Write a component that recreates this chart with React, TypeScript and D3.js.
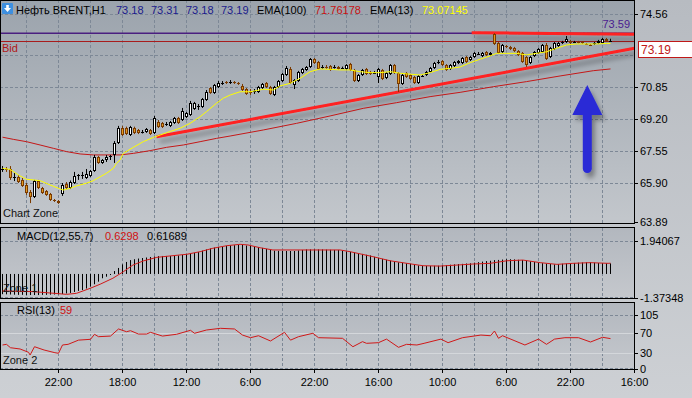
import React, { useEffect } from 'react';
import * as d3 from 'd3';

// ---------- DATA ----------
// candles: [open, high, low, close], one per H1 bar
const candles: [number, number, number, number][] = [
  [66.63, 66.78, 66.48, 66.65], [66.65, 66.73, 66.48, 66.62], [66.63, 66.78, 66.07, 66.17], [66.20, 66.42, 66.01, 66.22],
  [66.22, 66.32, 65.91, 65.96], [66.07, 66.17, 65.71, 65.76], [65.81, 65.91, 65.30, 65.40], [65.45, 65.55, 64.88, 65.19],
  [65.19, 66.07, 65.14, 66.01], [66.01, 66.07, 65.60, 65.66], [65.66, 65.71, 65.35, 65.40], [65.50, 65.55, 65.25, 65.30],
  [65.35, 65.40, 64.99, 65.04], [65.04, 65.09, 64.94, 64.99], [64.99, 65.04, 64.84, 64.89], [65.35, 65.91, 65.25, 65.81],
  [65.86, 65.96, 65.60, 65.66], [65.66, 66.04, 65.60, 65.96], [65.91, 66.48, 65.86, 66.27], [66.27, 66.37, 66.07, 66.30],
  [66.30, 66.48, 66.12, 66.33], [66.17, 66.63, 66.12, 66.37], [66.27, 66.58, 66.22, 66.53], [66.53, 67.35, 66.48, 67.25],
  [67.25, 67.30, 66.89, 66.94], [66.94, 67.14, 66.89, 67.09], [67.09, 67.35, 66.99, 67.25], [67.25, 67.35, 67.09, 67.27],
  [67.35, 68.06, 66.94, 67.96], [67.96, 68.84, 67.91, 68.73], [68.73, 68.84, 68.32, 68.37], [68.73, 68.80, 68.37, 68.42],
  [68.37, 68.84, 68.32, 68.78], [68.73, 68.80, 68.42, 68.48], [68.63, 68.68, 68.42, 68.48], [68.53, 68.63, 68.45, 68.55],
  [68.53, 68.73, 68.48, 68.68], [68.63, 68.68, 68.37, 68.42], [68.48, 69.35, 68.42, 69.24], [69.04, 69.14, 68.73, 68.78],
  [68.99, 69.04, 68.73, 68.78], [68.94, 69.04, 68.84, 68.96], [68.84, 69.09, 68.78, 69.04], [68.99, 69.30, 68.94, 69.24],
  [69.24, 69.30, 68.94, 68.99], [69.14, 69.76, 69.09, 69.60], [69.30, 69.55, 69.24, 69.50], [69.40, 70.12, 69.35, 70.01],
  [69.71, 70.07, 69.66, 70.01], [69.81, 69.96, 69.66, 69.84], [69.81, 70.27, 69.76, 70.22], [70.17, 70.68, 70.12, 70.58],
  [70.78, 70.83, 70.48, 70.53], [70.53, 70.99, 70.48, 70.94], [70.83, 71.14, 70.78, 71.04], [71.04, 71.14, 70.94, 71.06],
  [71.09, 71.14, 70.99, 71.04], [71.06, 71.19, 70.99, 71.09], [71.09, 71.14, 70.99, 71.07], [71.04, 71.09, 70.94, 71.02],
  [70.89, 70.99, 70.63, 70.68], [70.73, 70.78, 70.43, 70.48], [70.58, 70.73, 70.43, 70.56], [70.60, 70.73, 70.48, 70.63],
  [70.58, 70.89, 70.53, 70.83], [70.78, 71.04, 70.73, 70.99], [71.04, 71.09, 70.78, 70.83], [70.83, 70.89, 70.43, 70.48],
  [70.43, 70.89, 70.37, 70.83], [70.83, 71.19, 70.78, 71.14], [71.14, 71.55, 71.09, 71.50], [71.45, 71.91, 71.40, 71.81],
  [71.76, 71.86, 70.99, 71.04], [70.94, 71.24, 70.73, 71.19], [71.14, 71.66, 71.09, 71.60], [71.55, 71.81, 71.50, 71.76],
  [71.71, 71.91, 71.66, 71.86], [71.86, 72.32, 71.81, 72.27], [72.27, 72.32, 72.01, 72.07], [72.12, 72.17, 71.71, 71.76],
  [71.86, 71.96, 71.76, 71.88], [71.88, 71.96, 71.76, 71.86], [71.91, 71.96, 71.66, 71.71], [71.86, 71.96, 71.78, 71.88],
  [71.86, 71.91, 71.71, 71.76], [71.81, 71.88, 71.76, 71.83], [71.76, 72.01, 71.71, 71.96], [72.01, 72.07, 71.66, 71.71],
  [71.71, 71.76, 71.09, 71.14], [71.14, 71.50, 71.09, 71.45], [71.45, 71.76, 71.40, 71.71], [71.76, 71.81, 71.45, 71.50],
  [71.60, 71.66, 71.45, 71.50], [71.55, 71.66, 71.50, 71.57], [71.35, 71.81, 71.04, 71.76], [71.71, 71.76, 71.19, 71.24],
  [71.30, 71.60, 71.24, 71.55], [71.50, 72.01, 71.45, 71.96], [71.96, 72.01, 71.50, 71.55], [71.55, 71.60, 70.58, 70.99],
  [70.99, 71.50, 70.94, 71.45], [71.55, 71.60, 71.30, 71.35], [71.45, 71.50, 71.19, 71.24], [71.35, 71.40, 70.99, 71.04],
  [71.04, 71.45, 70.99, 71.40], [71.40, 71.50, 71.35, 71.42], [71.45, 71.66, 71.40, 71.60], [71.60, 71.86, 71.55, 71.81],
  [71.81, 72.12, 71.76, 72.07], [72.12, 72.22, 72.01, 72.14], [72.17, 72.22, 71.91, 71.96], [71.96, 72.01, 71.66, 71.71],
  [71.76, 72.01, 71.71, 71.96], [71.91, 72.17, 71.86, 72.12], [72.07, 72.22, 72.01, 72.17], [72.07, 72.37, 72.01, 72.32],
  [72.37, 72.42, 72.07, 72.12], [72.22, 72.42, 72.17, 72.37], [72.37, 72.63, 72.32, 72.58], [72.53, 72.63, 72.48, 72.55],
  [72.42, 72.63, 72.37, 72.58], [72.63, 72.68, 72.42, 72.48], [72.48, 72.63, 72.42, 72.58], [73.55, 73.59, 72.99, 73.04],
  [73.09, 73.14, 72.53, 72.58], [72.63, 73.04, 72.58, 72.99], [72.94, 72.99, 72.83, 72.89], [72.89, 72.94, 72.73, 72.78],
  [72.83, 72.89, 72.63, 72.68], [72.68, 72.73, 72.42, 72.48], [72.58, 72.63, 72.07, 72.12], [72.37, 72.42, 71.86, 71.96],
  [72.07, 72.42, 72.01, 72.37], [72.42, 72.68, 72.37, 72.63], [72.58, 72.83, 72.53, 72.78], [72.63, 73.04, 72.58, 72.99],
  [72.99, 73.09, 72.22, 72.27], [72.37, 72.89, 72.32, 72.83], [72.78, 73.14, 72.73, 73.09], [72.94, 73.14, 72.89, 73.09],
  [73.12, 73.20, 73.04, 73.14], [73.14, 73.45, 73.09, 73.30], [73.19, 73.25, 73.04, 73.09], [73.12, 73.20, 73.09, 73.14],
  [73.14, 73.20, 73.07, 73.12], [73.14, 73.19, 73.04, 73.09], [73.04, 73.09, 72.99, 73.02], [72.99, 73.04, 72.94, 72.97],
  [73.04, 73.14, 72.99, 73.09], [73.09, 73.25, 73.04, 73.19], [73.09, 73.35, 73.04, 73.30], [73.31, 73.35, 73.14, 73.19],
  [73.18, 73.31, 73.18, 73.19],
];

// EMA(13) vertices [bar, price]
const ema13: [number, number][] = [
  [0, 66.66], [1.9, 66.61], [4, 66.32], [6, 66.10], [7.7, 66.07], [9.4, 66.03], [11.9, 65.81], [14, 65.64], [15.2, 65.55],
  [16.9, 65.64], [18.5, 65.76], [21, 65.90], [22.7, 66.03], [24.4, 66.23], [26, 66.41], [27.7, 66.66], [28.5, 66.92],
  [29.4, 67.09], [30.2, 67.43], [32.7, 67.74], [35.2, 68.03], [37.7, 68.25], [39.4, 68.37], [41, 68.49], [44.4, 68.72],
  [46.9, 68.97], [49.4, 69.31], [51, 69.57], [53.5, 70.00], [55.2, 70.26], [56.9, 70.42], [59.4, 70.59], [61.9, 70.59],
  [65.2, 70.72], [67.7, 70.68], [69.4, 70.89], [71.9, 71.02], [74.4, 71.28], [76.9, 71.62], [79.4, 71.76], [81.9, 71.74],
  [84.4, 71.71], [86.9, 71.71], [89.4, 71.62], [91.9, 71.57], [94.4, 71.57], [96.9, 71.62], [99.4, 71.54], [101.9, 71.49],
  [104.4, 71.45], [106.9, 71.57], [109.4, 71.74], [111.9, 71.79], [114.4, 71.86], [116.9, 72.08], [119.4, 72.26],
  [121.9, 72.43], [123.5, 72.56], [126, 72.56], [128.5, 72.56], [131, 72.48], [133.5, 72.56], [136, 72.64], [138.5, 72.82],
  [141, 72.99], [143.5, 73.04], [146, 73.04], [148.5, 73.04], [151, 73.07], [152, 73.07],
];

// EMA(100) vertices [bar, price]
const ema100: [number, number][] = [
  [0, 68.26], [2.7, 68.15], [6, 68.03], [9.4, 67.86], [12.7, 67.69], [16, 67.52], [19.4, 67.40], [22.7, 67.35], [26, 67.35],
  [29.4, 67.35], [32.7, 67.43], [36.9, 67.57], [41, 67.74], [45.2, 67.86], [49.4, 68.03], [53.5, 68.20], [56.9, 68.32],
  [65.2, 68.63], [73.5, 68.97], [81.9, 69.35], [90.2, 69.74], [98.5, 70.03], [106.9, 70.34], [114.4, 70.56], [122.7, 70.85],
  [131, 71.11], [139.4, 71.40], [147.7, 71.67], [152, 71.76],
];

// MACD(12,55,7) histogram, one value per bar
const macdHist: number[] = [
  -1.18, -1.19, -1.20, -1.21, -1.22, -1.22, -1.23, -1.23, -1.23, -1.23, -1.22, -1.22, -1.21, -1.20, -1.19, -1.17,
  -1.14, -1.11, -1.05, -0.99, -0.94, -0.85, -0.74, -0.60, -0.45, -0.25, -0.16, -0.06, 0.17, 0.35, 0.56, 0.70,
  0.81, 0.86, 0.90, 0.93, 0.96, 0.99, 1.02, 1.04, 1.05, 1.05, 1.05, 1.05, 1.08, 1.11, 1.15, 1.19,
  1.23, 1.28, 1.36, 1.43, 1.49, 1.54, 1.58, 1.61, 1.64, 1.67, 1.68, 1.69, 1.69, 1.66, 1.63, 1.60,
  1.57, 1.52, 1.46, 1.41, 1.36, 1.35, 1.34, 1.34, 1.34, 1.34, 1.37, 1.40, 1.43, 1.43, 1.43, 1.43,
  1.43, 1.42, 1.41, 1.40, 1.40, 1.36, 1.32, 1.29, 1.26, 1.22, 1.17, 1.12, 1.08, 1.00, 0.94, 0.88,
  0.83, 0.78, 0.73, 0.68, 0.65, 0.62, 0.58, 0.54, 0.50, 0.48, 0.47, 0.47, 0.48, 0.48, 0.50, 0.52,
  0.54, 0.56, 0.58, 0.59, 0.61, 0.62, 0.66, 0.69, 0.72, 0.75, 0.77, 0.81, 0.82, 0.84, 0.86, 0.86,
  0.85, 0.83, 0.81, 0.78, 0.74, 0.70, 0.66, 0.63, 0.60, 0.58, 0.56, 0.58, 0.60, 0.61, 0.62, 0.64,
  0.66, 0.67, 0.68, 0.68, 0.66, 0.64, 0.63, 0.62, 0.617,
];

// MACD signal vertices [bar, value]
const macdSignal: [number, number][] = [
  [0, -0.99], [7.6, -1.03], [11.9, -1.11], [16, -1.19], [18.5, -1.13], [21.9, -0.84], [24.4, -0.60], [27.6, -0.25],
  [30.2, 0.13], [32.6, 0.52], [35.2, 0.76], [38.6, 0.97], [41.9, 1.05], [46.1, 1.15], [49.4, 1.30], [52.6, 1.50],
  [56.1, 1.65], [59.4, 1.73], [61.4, 1.69], [64.4, 1.53], [67.6, 1.40], [74.4, 1.40], [84.4, 1.40], [86.9, 1.30],
  [92.6, 1.01], [96.9, 0.77], [101.1, 0.62], [105.1, 0.48], [109.4, 0.46], [113.6, 0.52], [117.6, 0.58], [121.9, 0.62],
  [126.1, 0.77], [130.1, 0.81], [134.4, 0.66], [138.6, 0.56], [142.6, 0.62], [146.9, 0.66], [151.4, 0.62], [152, 0.63],
];

// RSI(13) vertices [bar, value]
const rsi: [number, number][] = [
  [0, 46.4], [1, 47.7], [2, 41], [4.4, 38.5], [6.5, 32], [6.9, 26.6], [8, 43], [10.4, 36.5], [13.1, 31.2], [14, 30],
  [15, 46.4], [16.4, 47.7], [19, 56], [22, 57.6], [23, 67.5], [24, 62.8], [27, 64], [29, 78], [31, 72.6], [32, 74.6],
  [34, 68], [36, 68], [37, 71.4], [40, 64], [43.5, 67.5], [47, 75.4], [48, 69.5], [51, 76], [54.5, 79.3], [58, 78],
  [60, 66], [62, 60.8], [64, 64.7], [67, 54.3], [70.5, 71.4], [72, 56], [74, 62.8], [77.6, 69.5], [79, 60.8], [85, 59.6],
  [87.6, 43], [90, 53], [91, 49.7], [94, 51], [96, 58], [99, 41.8], [101, 47.7], [103.6, 46.4], [105.4, 49.7], [109.6, 58],
  [111.4, 51], [115, 60.8], [119.6, 66], [122, 64.7], [123, 74], [124, 59.6], [125, 64.7], [130.6, 46.4], [134, 58],
  [136, 47.7], [138, 58], [140.6, 60.8], [144, 60.8], [147, 52.3], [150, 61.6], [152, 59],
];

const priceTicks = [74.56, 70.85, 69.20, 67.55, 65.90, 63.89];
const priceGrid = [74.56, 72.50, 70.85, 69.20, 67.55, 65.90];
const macdTicks = [1.94067, -1.37348];
const macdGrid = [1.94067];
const rsiTicks = [105, 70, 30, 0];
const rsiLevels = [70, 30];
const timeLabels = ['22:00', '18:00', '12:00', '6:00', '22:00', '16:00', '10:00', '6:00', '22:00', '16:00'];
const timeLabelBars = [14, 30, 46, 62, 78, 94, 110, 126, 142, 158];
const gridBars = [6, 14, 22, 30, 38, 46, 54, 62, 70, 78, 86, 94, 102, 110, 118, 126, 134, 142, 150];

const supportLine: [number, number][] = [[38.5, 68.28], [158, 72.82]];
const resistLine: [number, number][] = [[117.3, 73.62], [158, 73.54]];
const highLevel = 73.59;
const bidPrice = 73.19;
const arrow = { bar: 146.2, tip: 70.94, base: 66.42 };

const symbol = 'Нефть BRENT,H1';
const ohlc = ['73.18', '73.31', '73.18', '73.19'];
const emaSlowLabel = 'EMA(100)';
const emaSlowValue = '71.76178';
const emaFastLabel = 'EMA(13)';
const emaFastValue = '73.07145';
const macdLabel = 'MACD(12,55,7)';
const macdValues = ['0.6298', '0.61689'];
const rsiLabel = 'RSI(13)';
const rsiValue = '59';

// ---------- LAYOUT / STYLE ----------
const W = 692, H = 398;
const PR = 634; // plot right edge
const FONT = '"Liberation Sans", Arial, sans-serif';
const GRID = '#7d8896';

export default function App() {
  useEffect(() => {
    document.body.style.margin = '0';
  }, []);

  const x = d3.scaleLinear().domain([0, 152]).range([2.5, 610.5]);
  const yP = d3.scaleLinear().domain([63.89, 74.56]).range([222.4, 14.35]);
  const yM = d3.scaleLinear().domain([-1.37348, 1.94067]).range([297.5, 240.7]);
  const yR = d3.scaleLinear().domain([0, 105]).range([368.5, 315.3]);

  const lineP = d3.line<[number, number]>().x(d => x(d[0])).y(d => yP(d[1]));
  const lineM = d3.line<[number, number]>().x(d => x(d[0])).y(d => yM(d[1]));
  const lineR = d3.line<[number, number]>().x(d => x(d[0])).y(d => yR(d[1]));

  const gx = (b: number) => Math.floor(x(b)) + 0.5;

  const vGrid = (y1: number, y2: number) =>
    gridBars.map(b => (
      <line key={b} x1={gx(b)} x2={gx(b)} y1={y1} y2={y2} stroke={GRID} strokeDasharray="3,2" />
    ));

  // arrow geometry
  const ax = x(arrow.bar);
  const aTip = yP(arrow.tip);
  const aBase = yP(arrow.base);
  const headH = 30, headW = 15, shaft = 4.5;
  const arrowPath = `M${ax},${aTip} L${ax + headW},${aTip + headH} L${ax + shaft},${aTip + headH} L${ax + shaft},${aBase - shaft}
    A${shaft},${shaft} 0 0 1 ${ax - shaft},${aBase - shaft} L${ax - shaft},${aTip + headH} L${ax - headW},${aTip + headH} Z`;

  const zero = yM(0);

  return (
    <svg width={W} height={H} style={{ display: 'block' }} fontFamily={FONT} fontSize={11}>
      <defs>
        <linearGradient id="bgMain" x1="0" y1="0" x2="0" y2="1">
          <stop offset="0" stopColor="#9ba3ac" />
          <stop offset="1" stopColor="#c3c7cc" />
        </linearGradient>
        <linearGradient id="bgSub" x1="0" y1="0" x2="0" y2="1">
          <stop offset="0" stopColor="#b2b7be" />
          <stop offset="1" stopColor="#c5c8cd" />
        </linearGradient>
        <linearGradient id="bgOuter" x1="0" y1="0" x2="0" y2="1">
          <stop offset="0" stopColor="#b7bbc1" />
          <stop offset="1" stopColor="#cdd0d4" />
        </linearGradient>
        <filter id="shadow" filterUnits="userSpaceOnUse" x="0" y="0" width={W} height={H}>
          <feGaussianBlur in="SourceAlpha" stdDeviation="2.5" />
          <feOffset dx="3" dy="5" result="b" />
          <feComponentTransfer>
            <feFuncA type="linear" slope="0.35" />
          </feComponentTransfer>
          <feMerge>
            <feMergeNode />
            <feMergeNode in="SourceGraphic" />
          </feMerge>
        </filter>
        <clipPath id="clipMain"><rect x={0} y={0} width={PR} height={223} /></clipPath>
        <clipPath id="clipMacd"><rect x={0} y={228} width={PR} height={70} /></clipPath>
        <clipPath id="clipRsi"><rect x={0} y={303} width={PR} height={66} /></clipPath>
      </defs>

      <rect x={0} y={0} width={W} height={H} fill="url(#bgOuter)" />

      {/* ---------- MAIN PANEL ---------- */}
      <rect x={0} y={0} width={PR} height={224} fill="url(#bgMain)" />
      <g clipPath="url(#clipMain)">
        {vGrid(0, 224)}
        {priceGrid.map(p => (
          <line key={p} x1={0} x2={PR} y1={Math.round(yP(p)) + 0.5} y2={Math.round(yP(p)) + 0.5} stroke={GRID} strokeDasharray="3,2" />
        ))}
        {/* horizontal levels */}
        <line x1={0} x2={PR} y1={yP(highLevel)} y2={yP(highLevel)} stroke="#4a1f80" strokeWidth={1.3} />
        <line x1={0} x2={PR} y1={Math.round(yP(bidPrice)) + 0.5} y2={Math.round(yP(bidPrice)) + 0.5} stroke="#a81c1c" />
        {/* trend lines with shadow */}
        <g filter="url(#shadow)">
          <path d={lineP(supportLine) || ''} stroke="#ff2020" strokeWidth={3} fill="none" />
          <path d={lineP(resistLine) || ''} stroke="#ff2020" strokeWidth={3} fill="none" />
        </g>
        {/* moving averages */}
        <path d={lineP(ema100) || ''} stroke="#c41818" strokeWidth={1} fill="none" />
        {/* candles */}
        {candles.map(([o, h, l, c], i) => {
          const col = Math.floor(x(i));
          const up = c >= o;
          const top = Math.round(yP(Math.max(o, c)));
          const bot = Math.round(yP(Math.min(o, c)));
          const hgt = bot - top;
          const stroke = up ? '#000000' : '#7a3a00';
          const fill = up ? '#ffffff' : '#e49a1e';
          return (
            <g key={i}>
              <line x1={col + 0.5} x2={col + 0.5} y1={yP(h)} y2={yP(l)} stroke={stroke} />
              {hgt >= 2 ? (
                <rect x={col - 0.5} y={top + 0.5} width={2} height={hgt - 1} fill={fill} stroke={stroke} />
              ) : (
                <line x1={col - 1} x2={col + 2} y1={top + 0.5} y2={top + 0.5} stroke={stroke} />
              )}
            </g>
          );
        })}
        <path d={lineP(ema13) || ''} stroke="#ffff00" strokeWidth={1} fill="none" />
        {/* arrow */}
        <path d={arrowPath} fill="#2a2ad6" filter="url(#shadow)" />
        {/* texts */}
        <text x={630} y={yP(highLevel) - 5} textAnchor="end" fill="#4a2090">{highLevel.toFixed(2)}</text>
        <text x={2} y={yP(bidPrice) + 11} fill="#b01818">Bid</text>
        <text x={3} y={217} fill="#111">Chart Zone</text>
        {/* header */}
        <g>
          <rect x={2} y={3} width={11} height={11} fill="#3d8fe0" rx={1} />
          <path d="M7.5,12 L4,8 L6.2,8 L6.2,5 L8.8,5 L8.8,8 L11,8 Z" fill="#ffffff" />
          <text x={16} y={13.5} fill="#000">{symbol}</text>
          {ohlc.map((v, k) => (
            <text key={k} x={116 + k * 35} y={13.5} fill="#1a1a8c">{v}</text>
          ))}
          <text x={257} y={13.5} fill="#000">{emaSlowLabel}</text>
          <text x={315} y={13.5} fill="#c81010">{emaSlowValue}</text>
          <text x={370} y={13.5} fill="#000">{emaFastLabel}</text>
          <text x={422} y={13.5} fill="#ffff00">{emaFastValue}</text>
        </g>
      </g>
      <rect x={0.5} y={0.5} width={PR} height={223} fill="none" stroke="#000" />

      {/* ---------- MACD PANEL ---------- */}
      <rect x={0} y={227} width={PR} height={72} fill="url(#bgSub)" />
      <g clipPath="url(#clipMacd)">
        {vGrid(228, 299)}
        {macdGrid.map(v => (
          <line key={v} x1={0} x2={PR} y1={Math.round(yM(v)) + 0.5} y2={Math.round(yM(v)) + 0.5} stroke={GRID} strokeDasharray="3,2" />
        ))}
        <line x1={0} x2={PR} y1={297.5} y2={297.5} stroke={GRID} strokeDasharray="3,2" />
        {macdHist.map((v, i) => (
          <line key={i} x1={gx(i)} x2={gx(i)} y1={zero} y2={yM(v)} stroke="#000" />
        ))}
        <path d={lineM(macdSignal) || ''} stroke="#d01818" fill="none" />
        <text x={17} y={240} fill="#000">{macdLabel}</text>
        <text x={105} y={240} fill="#d01010">{macdValues[0]}</text>
        <text x={147} y={240} fill="#000">{macdValues[1]}</text>
        <text x={3} y={292} fill="#111">Zone 1</text>
      </g>
      <rect x={0.5} y={227.5} width={PR} height={71} fill="none" stroke="#000" />

      {/* ---------- RSI PANEL ---------- */}
      <rect x={0} y={302} width={PR} height={68} fill="url(#bgSub)" />
      <g clipPath="url(#clipRsi)">
        {vGrid(303, 370)}
        {rsiLevels.map(v => (
          <line key={v} x1={0} x2={PR} y1={Math.round(yR(v)) + 0.5} y2={Math.round(yR(v)) + 0.5} stroke="#d4d7db" />
        ))}
        <line x1={0} x2={PR} y1={Math.round(yR(105)) + 0.5} y2={Math.round(yR(105)) + 0.5} stroke={GRID} strokeDasharray="3,2" />
        <line x1={0} x2={PR} y1={368.5} y2={368.5} stroke={GRID} strokeDasharray="3,2" />
        <path d={lineR(rsi) || ''} stroke="#d01818" fill="none" />
        <text x={17} y={314} fill="#000">{rsiLabel}</text>
        <text x={60} y={314} fill="#d01010">{rsiValue}</text>
        <text x={3} y={364} fill="#111">Zone 2</text>
      </g>
      <rect x={0.5} y={302.5} width={PR} height={67} fill="none" stroke="#000" />

      {/* ---------- RIGHT AXES ---------- */}
      {priceTicks.map(p => (
        <g key={p}>
          <line x1={PR} x2={PR + 4} y1={Math.round(yP(p)) + 0.5} y2={Math.round(yP(p)) + 0.5} stroke="#000" />
          <text x={640} y={yP(p) + 4} fill="#000">{p.toFixed(2)}</text>
        </g>
      ))}
      {/* bid box */}
      <rect x={638.5} y={41.5} width={60} height={16} fill="#ffffff" stroke="#c01818" />
      <text x={641} y={54} fill="#c01818" fontSize={12}>{bidPrice.toFixed(2)}</text>
      {macdTicks.map(v => (
        <g key={v}>
          <line x1={PR} x2={PR + 4} y1={Math.round(yM(v)) + 0.5} y2={Math.round(yM(v)) + 0.5} stroke="#000" />
          <text x={640} y={yM(v) + 4} fill="#000">{v.toFixed(5)}</text>
        </g>
      ))}
      {rsiTicks.map(v => (
        <g key={v}>
          <line x1={PR} x2={PR + 4} y1={Math.round(yR(v)) + 0.5} y2={Math.round(yR(v)) + 0.5} stroke="#000" />
          <text x={640} y={yR(v) + 4} fill="#000">{v}</text>
        </g>
      ))}

      {/* ---------- TIME AXIS ---------- */}
      {timeLabels.map((t, k) => {
        const tx = gx(timeLabelBars[k]);
        return (
          <g key={k}>
            <line x1={tx} x2={tx} y1={370} y2={373} stroke="#000" />
            <text x={tx} y={386} textAnchor="middle" fill="#000">{t}</text>
          </g>
        );
      })}
    </svg>
  );
}
